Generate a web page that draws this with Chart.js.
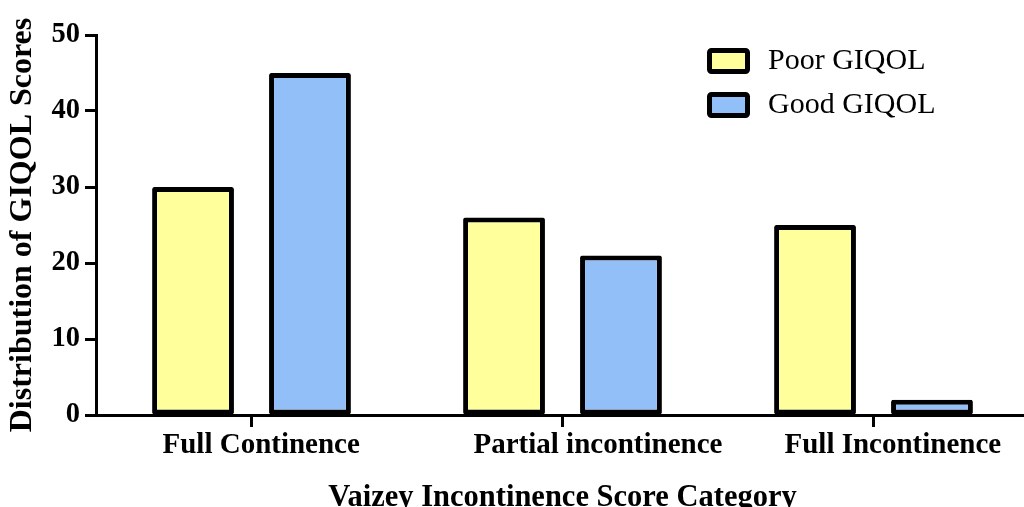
<!DOCTYPE html>
<html>
<head>
<meta charset="utf-8">
<script src="https://cdn.jsdelivr.net/npm/chart.js@4/dist/chart.umd.min.js"></script>
<style>
  html, body { margin: 0; padding: 0; background: #fff; }
  canvas { display: block; }
</style>
</head>
<body>
<canvas id="myChart" width="1024" height="507"></canvas>
<script>
const categories = ["Full Continence", "Partial incontinence", "Full Incontinence"];
const poorGiqol = [30, 26, 25];
const goodGiqol = [45, 21, 2];
const yTickValues = [0, 10, 20, 30, 40, 50];
const seriesNames = ["Poor GIQOL", "Good GIQOL"];

const serif = "'Liberation Serif', 'Times New Roman', serif";

// legend sits inside the plot, top right, like the original
const legendBoxes = {
	id: "legendBoxes",
	afterDraw(chart) {
		const ctx = chart.ctx;
		chart.data.datasets.forEach((ds, i) => {
			const x = 707, y = 48 + i * 44;
			ctx.save();
			ctx.fillStyle = ds.backgroundColor;
			ctx.strokeStyle = ds.borderColor;
			ctx.lineWidth = 5;
			ctx.beginPath();
			ctx.roundRect(x + 2.5, y + 2.5, 38, 21, 2);
			ctx.fill();
			ctx.stroke();
			ctx.fillStyle = "#000";
			ctx.font = "30px " + serif;
			ctx.textBaseline = "middle";
			ctx.fillText(ds.label, 768, y + 13);
			ctx.restore();
		});
	}
};

// the original x axis runs a bit past the right edge of the picture
const stretchX = {
	id: "stretchX",
	afterLayout(chart) {
		const s = chart.scales.x;
		s.right += 5;
		s.width += 5;
		s.configure();
		chart.chartArea.right += 5;
		chart.chartArea.width += 5;
	}
};

const ctx = document.getElementById("myChart");
new Chart(ctx, {
	type: "bar",
	data: {
		labels: categories,
		datasets: [
			{
				label: seriesNames[0],
				data: poorGiqol,
				backgroundColor: "#FFFF9C",
				borderColor: "#000",
				borderWidth: 5,
				borderSkipped: false,
				borderRadius: 2,
				categoryPercentage: 0.752,
				barPercentage: 0.70,
			},
			{
				label: seriesNames[1],
				data: goodGiqol,
				backgroundColor: "#93BFF8",
				borderColor: "#000",
				borderWidth: 5,
				borderSkipped: false,
				borderRadius: 2,
				categoryPercentage: 0.752,
				barPercentage: 0.70,
			},
		],
	},
	options: {
		responsive: false,
		animation: false,
		devicePixelRatio: 1,
		layout: { padding: { top: 35, left: 0, right: 0, bottom: 0 } },
		plugins: {
			legend: { display: false },
			tooltip: { enabled: false },
		},
		scales: {
			x: {
				offset: true,
				grid: {
					offset: false,
					drawOnChartArea: false,
					tickLength: 12,
					tickWidth: 3,
					tickColor: "#000",
				},
				border: { display: true, width: 3, color: "#000" },
				ticks: {
					align: "start",
					labelOffset: -89,
					maxRotation: 0,
					autoSkip: false,
					padding: 1,
					color: "#000",
					font: { family: serif, size: 29, weight: "bold" },
				},
				title: {
					display: true,
					text: "Vaizey Incontinence Score Category",
					color: "#000",
					font: { family: serif, size: 30.5, weight: "bold" },
					padding: { top: 0, bottom: -9 },
				},
				afterFit(s) {
					s.height = 92;
					s.paddingLeft = 0;
					s.paddingRight = 0;
				},
			},
			y: {
				min: 0,
				max: 50,
				grid: {
					drawOnChartArea: false,
					tickLength: 11,
					tickWidth: 3,
					tickColor: "#000",
				},
				border: { display: true, width: 3, color: "#000" },
				ticks: {
					padding: 5,
					color: "#000",
					font: { family: serif, size: 28.5, weight: "bold" },
				},
				afterBuildTicks(s) {
					s.ticks = yTickValues.map((v) => ({ value: v }));
				},
				title: {
					display: true,
					text: "Distribution of GIQOL Scores",
					color: "#000",
					font: { family: serif, size: 32, weight: "bold" },
					padding: { top: 4, bottom: 0 },
				},
				afterFit(s) {
					s.width = 96;
				},
			},
		},
	},
	plugins: [legendBoxes, stretchX],
});
</script>
</body>
</html>
